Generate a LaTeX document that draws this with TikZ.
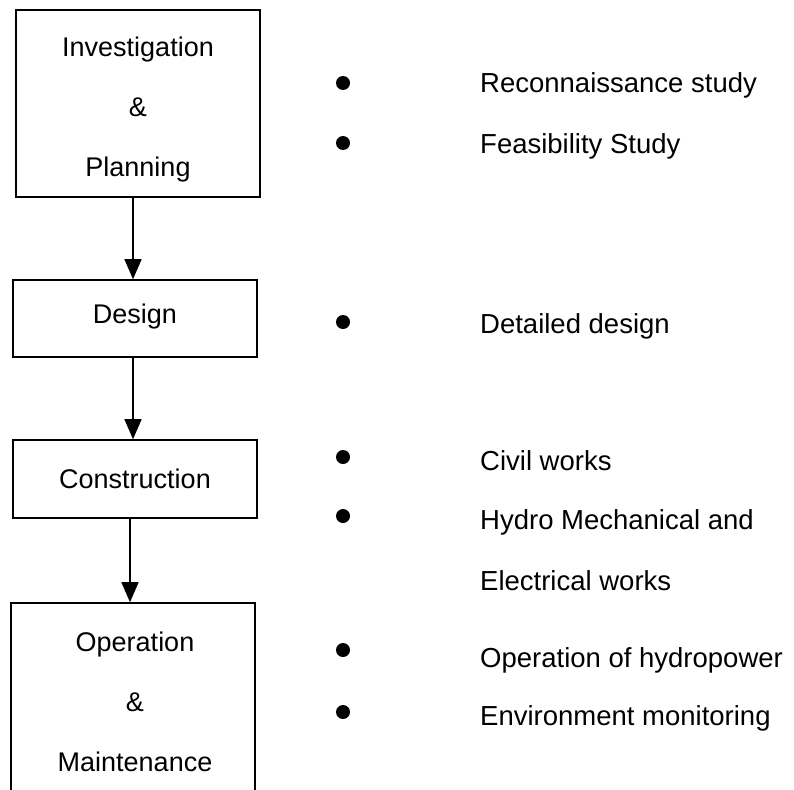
\documentclass[tikz,border=0pt]{standalone}
\usepackage{fontspec}
\setmainfont{Liberation Sans}
\usetikzlibrary{arrows.meta}
\tikzset{
  stagebox/.style={draw, line width=1.6pt, inner sep=0pt},
  boxtext/.style={align=center, font=\fontsize{27}{60}\selectfont, inner sep=0pt},
  itemtext/.style={anchor=base west, font=\fontsize{27.5}{33}\selectfont, inner sep=0pt},
  dotmark/.style={circle, fill=black, inner sep=0pt, minimum size=14pt},
  flow/.style={line width=1.5pt, -{Triangle[length=20pt,width=17pt]}}
}
\begin{document}
\begin{tikzpicture}[x=1pt,y=-1pt]
\useasboundingbox (0,0) rectangle (794,789);
\clip (0,0) rectangle (794,789);
% boxes
\node[stagebox, minimum width=244pt, minimum height=187pt] (b1) at (138,103.5) {};
\node[stagebox, minimum width=244pt, minimum height=77pt] (b2) at (135,318.5) {};
\node[stagebox, minimum width=244pt, minimum height=78pt] (b3) at (135,479) {};
\node[stagebox, minimum width=244pt, minimum height=210pt] (b4) at (133,708) {};
% box texts
\node[boxtext] (t1) at (138,110) {Investigation\\\&\\Planning};
\node[boxtext] (t2) at (135,317) {Design};
\node[boxtext] (t3) at (135,479) {Construction};
\node[boxtext] (t4) at (135,702) {Operation\\\&\\Maintenance};
% arrows
\draw[flow] ([xshift=-5pt]b1.south) -- ([xshift=-5pt]b1.south |- b2.north);
\draw[flow] ([xshift=-2pt]b2.south) -- ([xshift=-2pt]b2.south |- b3.north);
\draw[flow] ([xshift=-5pt]b3.south) -- ([xshift=-5pt]b3.south |- b4.north);
% bullets
\node[dotmark] (d1) at (343,83) {};
\node[dotmark] (d2) at (343,143) {};
\node[dotmark] (d3) at (343,322) {};
\node[dotmark] (d4) at (343,457) {};
\node[dotmark] (d5) at (343,516) {};
\node[dotmark] (d6) at (343,650) {};
\node[dotmark] (d7) at (343,712) {};
% item texts
\node[itemtext] (i1) at (480,93) {Reconnaissance study};
\node[itemtext] (i2) at (480,153) {Feasibility Study};
\node[itemtext] (i3) at (480,333) {Detailed design};
\node[itemtext] (i4) at (480,470) {Civil works};
\node[itemtext] (i5) at (480,529) {Hydro Mechanical and};
\node[itemtext] (i6) at (480,590) {Electrical works};
\node[itemtext] (i7) at (480,667) {Operation of hydropower};
\node[itemtext] (i8) at (480,725) {Environment monitoring};
\end{tikzpicture}
\end{document}
